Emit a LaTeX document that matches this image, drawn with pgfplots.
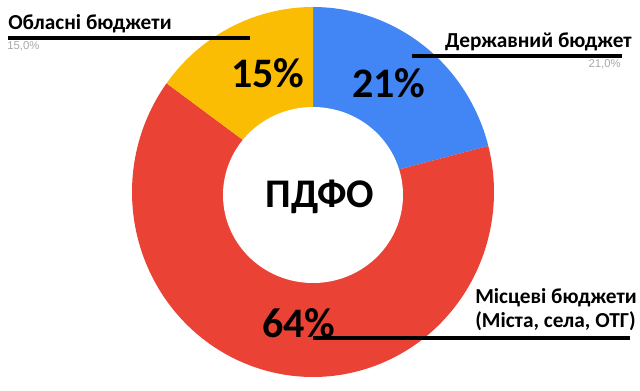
\documentclass[border=0pt]{standalone}
\usepackage{pgfplots}
\pgfplotsset{compat=1.18}
\usepackage{fontspec}
\setmainfont{Carlito}
\newfontfamily\grayfont{Liberation Sans}
\definecolor{gblue}{HTML}{4285F4}
\definecolor{gred}{HTML}{EA4335}
\definecolor{gyellow}{HTML}{FBBC04}
\definecolor{lgray}{HTML}{A8A8A8}
% shares (percent)
\def\vA{21}% Державний бюджет
\def\vB{64}% Місцеві бюджети
\def\vC{15}% Обласні бюджети
\pgfmathsetmacro{\aZ}{90}
\pgfmathsetmacro{\aA}{90-3.6*\vA}
\pgfmathsetmacro{\aB}{\aA-3.6*\vB}
\pgfmathsetmacro{\aC}{\aB-3.6*\vC}
\begin{document}
\begin{tikzpicture}
\begin{axis}[
  width=480pt, height=292.5pt, scale only axis,
  xmin=0, xmax=640, ymin=0, ymax=390, y dir=reverse,
  hide axis, clip=false]
\path (axis cs:0,0) rectangle (axis cs:640,390);
% slices
\addplot[fill=gblue, draw=none, domain=\aA:\aZ, samples=80]
  ({313+181*cos(x)},{192-185*sin(x)}) -- (axis cs:313,192) -- cycle;
\addplot[fill=gred, draw=none, domain=\aB:\aA, samples=160]
  ({313+181*cos(x)},{192-185*sin(x)}) -- (axis cs:313,192) -- cycle;
\addplot[fill=gyellow, draw=none, domain=\aC:\aB, samples=60]
  ({313+181*cos(x)},{192-185*sin(x)}) -- (axis cs:313,192) -- cycle;
% hole
\addplot[fill=white, draw=none, domain=0:360, samples=160]
  ({313+90*cos(x)},{195-88*sin(x)}) -- cycle;
% centre text
\node[anchor=base, font=\fontsize{30.5}{34}\selectfont\bfseries] at (axis cs:320,207) {ПДФО};
% slice percentages
\node[anchor=base west, font=\fontsize{31.5}{34}\selectfont\bfseries, inner sep=0pt] at (axis cs:352,97) {21\%};
\node[anchor=base west, font=\fontsize{31.5}{34}\selectfont\bfseries, inner sep=0pt] at (axis cs:231,87) {15\%};
\node[anchor=base west, font=\fontsize{31.5}{34}\selectfont\bfseries, inner sep=0pt] at (axis cs:262,337) {64\%};
% labels
\node[anchor=base west, font=\fontsize{16}{19}\selectfont\bfseries, inner sep=0pt] at (axis cs:8,29) {Обласні бюджети};
\draw[line width=2.3pt] (axis cs:8,38) -- (axis cs:250,38);
\node[anchor=north west, font=\grayfont\fontsize{8.5}{10}\selectfont, text=lgray, inner sep=0pt] at (axis cs:7,41.5) {15,0\%};
\node[anchor=base east, font=\fontsize{16}{19}\selectfont\bfseries, inner sep=0pt] at (axis cs:632,47) {Державний бюджет};
\draw[line width=2.3pt] (axis cs:412,56) -- (axis cs:622,56);
\node[anchor=north east, font=\grayfont\fontsize{8.5}{10}\selectfont, text=lgray, inner sep=0pt] at (axis cs:621,59) {21,0\%};
\node[anchor=base west, font=\fontsize{16}{19}\selectfont\bfseries, inner sep=0pt] at (axis cs:475,303) {Місцеві бюджети};
\node[anchor=base west, font=\fontsize{16}{19}\selectfont\bfseries, inner sep=0pt] at (axis cs:475,327) {(Міста, села, ОТГ)};
\draw[line width=2.3pt] (axis cs:313,338) -- (axis cs:630,338);
\end{axis}
\end{tikzpicture}
\end{document}
